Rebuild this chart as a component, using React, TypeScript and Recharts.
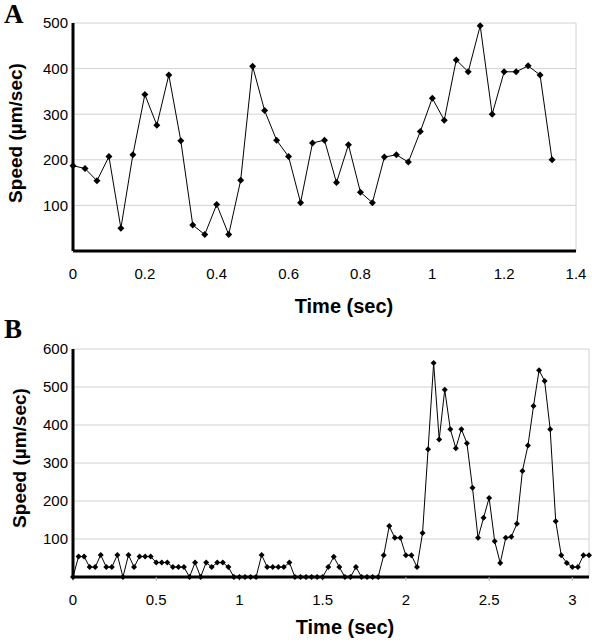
import { CartesianGrid, Line, LineChart, ReferenceLine, XAxis, YAxis } from 'recharts';

// frames were sampled at 30 per second
const FRAME_RATE = 30;

// Panel A: speed (µm/sec) per frame
const SPEED_A = [
  187, 181, 154, 207, 50, 211, 343, 276, 386, 242, 57, 36, 102, 36, 155, 405, 308, 243, 207, 106,
  237, 243, 150, 233, 129, 106, 206, 211, 195, 262, 335, 287, 419, 393, 494, 300, 393, 393, 406,
  386, 200,
];

// Panel B: speed (µm/sec) per frame
const SPEED_B = [
  0, 54, 54, 26, 26, 58, 26, 26, 58, 0,
  58, 26, 54, 54, 54, 38, 38, 38, 26, 26,
  26, 0, 38, 0, 38, 26, 38, 38, 26, 0,
  0, 0, 0, 0, 58, 26, 26, 26, 26, 38,
  0, 0, 0, 0, 0, 0, 26, 53, 26, 0,
  0, 26, 0, 0, 0, 0, 57, 134, 103, 103,
  57, 57, 26, 116, 336, 563, 362, 493, 389, 339,
  389, 352, 235, 103, 156, 208, 94, 37, 103, 106,
  140, 279, 346, 450, 544, 516, 389, 147, 57, 37,
  26, 26, 57, 57,
];

const X_TICKS_A = [0, 0.2, 0.4, 0.6, 0.8, 1, 1.2, 1.4];
const Y_TICKS_A = [100, 200, 300, 400, 500];
const X_TICKS_B = [0, 0.5, 1, 1.5, 2, 2.5, 3];
const Y_TICKS_B = [100, 200, 300, 400, 500, 600];

const SANS = 'Liberation Sans, Arial, sans-serif';
const SERIF = 'Liberation Serif, Times New Roman, serif';
const GRID = '#d2d2d2';

const toRows = (speeds: number[]) => speeds.map((v, i) => ({ t: i / FRAME_RATE, speed: v }));

const diamond = (s: number) => (props: any) => {
  const { cx, cy, index } = props;
  if (cx == null || cy == null) return <g key={index} />;
  return (
    <path
      key={index}
      d={`M${cx},${cy - s}L${cx + s},${cy}L${cx},${cy + s}L${cx - s},${cy}Z`}
      fill='#000'
    />
  );
};

interface PanelProps {
  speeds: number[];
  height: number;
  margin: { top: number; right: number; bottom: number; left: number };
  xMax: number;
  xTicks: number[];
  yMax: number;
  yTicks: number[];
  dotSize: number;
  xTickLine: boolean;
}

function SpeedPanel(p: PanelProps) {
  const rows = toRows(p.speeds);
  return (
    <LineChart width={592} height={p.height} data={rows} margin={p.margin}>
      <CartesianGrid vertical={false} stroke={GRID} />
      <ReferenceLine x={p.xMax} stroke={GRID} />
      <XAxis
        type='number'
        dataKey='t'
        domain={[0, p.xMax]}
        ticks={p.xTicks}
        height={30}
        axisLine={{ stroke: '#000', strokeWidth: 3 }}
        tickLine={p.xTickLine ? { stroke: '#bbb' } : false}
        tickSize={p.xTickLine ? 4 : 0}
        tickMargin={p.xTickLine ? 13 : 17}
        tick={{ fontSize: 15, fill: '#000', fontFamily: SANS }}
      />
      <YAxis
        type='number'
        domain={[0, p.yMax]}
        ticks={p.yTicks}
        width={60}
        axisLine={{ stroke: '#000', strokeWidth: 3 }}
        tickLine={false}
        tickSize={0}
        tickMargin={5}
        tick={{ fontSize: 15, fill: '#000', fontFamily: SANS }}
      />
      <Line
        type='linear'
        dataKey='speed'
        stroke='#000'
        strokeWidth={1}
        dot={diamond(p.dotSize)}
        activeDot={false}
        isAnimationActive={false}
      />
    </LineChart>
  );
}

export default function App() {
  return (
    <div style={{ position: 'absolute', left: 0, top: 0, width: 592, height: 642, background: '#fff' }}>
      <div style={{ position: 'absolute', left: 0, top: 0 }}>
        <SpeedPanel
          speeds={SPEED_A}
          height={320}
          margin={{ top: 23, right: 16, bottom: 39, left: 13 }}
          xMax={1.4}
          xTicks={X_TICKS_A}
          yMax={500}
          yTicks={Y_TICKS_A}
          dotSize={3.5}
          xTickLine={false}
        />
      </div>
      <div style={{ position: 'absolute', left: 0, top: 320 }}>
        <SpeedPanel
          speeds={SPEED_B}
          height={322}
          margin={{ top: 29, right: 3, bottom: 35, left: 13 }}
          xMax={3.1}
          xTicks={X_TICKS_B}
          yMax={600}
          yTicks={Y_TICKS_B}
          dotSize={3}
          xTickLine={true}
        />
      </div>
      {/* panel letters and axis titles */}
      <svg
        width={592}
        height={642}
        style={{ position: 'absolute', left: 0, top: 0, pointerEvents: 'none' }}>
        <text x={4} y={23} fontFamily={SERIF} fontWeight='bold' fontSize={27}>
          A
        </text>
        <text x={4} y={338} fontFamily={SERIF} fontWeight='bold' fontSize={27}>
          B
        </text>
        <text
          x={22}
          y={133}
          transform='rotate(-90 22 133)'
          textAnchor='middle'
          fontFamily={SANS}
          fontWeight='bold'
          fontSize={19}>
          Speed (µm/sec)
        </text>
        <text
          x={26}
          y={458}
          transform='rotate(-90 26 458)'
          textAnchor='middle'
          fontFamily={SANS}
          fontWeight='bold'
          fontSize={19}>
          Speed (µm/sec)
        </text>
        <text x={344} y={313} textAnchor='middle' fontFamily={SANS} fontWeight='bold' fontSize={20}>
          Time (sec)
        </text>
        <text x={345} y={634} textAnchor='middle' fontFamily={SANS} fontWeight='bold' fontSize={20}>
          Time (sec)
        </text>
      </svg>
    </div>
  );
}
